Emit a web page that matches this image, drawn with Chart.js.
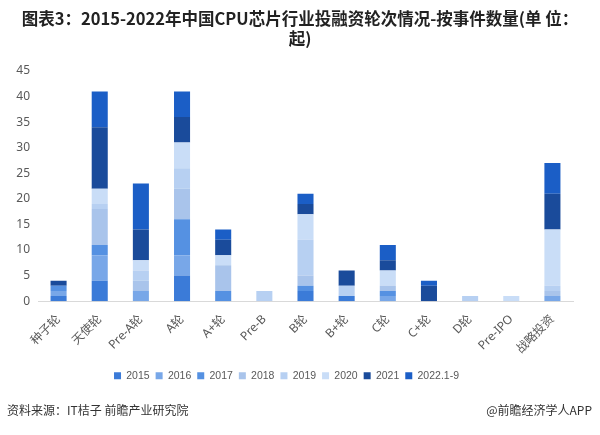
<!DOCTYPE html>
<html>
<head>
<meta charset="utf-8">
<script src="https://cdn.jsdelivr.net/npm/chart.js@4"></script>
<style>
  body { margin: 0; background: #fff; }
  #wrap { position: relative; width: 600px; height: 435px; }
  .title { position: absolute; left: 0; top: 8px; width: 600px; text-align: center; font-family: "Noto Sans CJK SC", sans-serif; font-size: 16.5px; font-weight: bold; line-height: 20px; color: #222; }
  .note { position: absolute; top: 401px; font-family: "Noto Sans CJK SC", sans-serif; font-size: 12px; color: #333; }
</style>
</head>
<body>
<div id="wrap">
  <canvas id="roundsChart" width="600" height="435"></canvas>
  <div class="title">图表3：2015-2022年中国CPU芯片行业投融资轮次情况-按事件数量(单 位：<br>起)</div>
  <div class="note" style="left: 7px;">资料来源：IT桔子 前瞻产业研究院</div>
  <div class="note" style="right: 8px;">@前瞻经济学人APP</div>
</div>
<script>
// funding rounds (categories)
const rounds = ['种子轮', '天使轮', 'Pre-A轮', 'A轮', 'A+轮', 'Pre-B', 'B轮', 'B+轮', 'C轮', 'C+轮', 'D轮', 'Pre-IPO', '战略投资'];
const years = ['2015', '2016', '2017', '2018', '2019', '2020', '2021', '2022.1-9'];

// events per round, one array per year
const y2015 = [1, 4, 0, 5, 0, 0, 2, 1, 0, 0, 0, 0, 0];
const y2016 = [1, 5, 2, 4, 0, 0, 0, 0, 1, 0, 0, 0, 1];
const y2017 = [1, 2, 0, 7, 2, 0, 1, 0, 1, 0, 0, 0, 0];
const y2018 = [0, 7, 2, 6, 5, 0, 2, 0, 1, 0, 0, 0, 1];
const y2019 = [0, 1, 2, 4, 0, 2, 7, 2, 0, 0, 1, 0, 1];
const y2020 = [0, 3, 2, 5, 2, 0, 5, 0, 3, 0, 0, 1, 11];
const y2021 = [1, 12, 6, 5, 3, 0, 2, 3, 2, 3, 0, 0, 7];
const y2022 = [0, 7, 9, 5, 2, 0, 2, 0, 3, 1, 0, 0, 6];

const yearData = [y2015, y2016, y2017, y2018, y2019, y2020, y2021, y2022];
const colors = ['#3b7bd8', '#78a7e8', '#5591e2', '#a9c4eb', '#b7d0f2', '#c9ddf7', '#1a4b9b', '#1b5ec6'];

const ctx = document.getElementById('roundsChart').getContext('2d');
const labelFont = { family: '"Noto Sans", "Noto Sans CJK SC", sans-serif', size: 12 };

new Chart(ctx, {
    type: 'bar',
    data: {
        labels: rounds,
        datasets: years.map((y, i) => ({
            label: y,
            data: yearData[i],
            backgroundColor: colors[i],
            borderWidth: 0,
            barPercentage: 0.39,
            categoryPercentage: 1
        }))
    },
    options: {
        responsive: false,
        animation: false,
        layout: { padding: { left: 0, right: 27, top: 71, bottom: 44 } },
        plugins: {
            title: { display: false },
            legend: {
                position: 'bottom',
                // empty title only adds a gap above the legend row
                title: { display: true, text: ' ', font: { size: 1 }, padding: { top: 2, bottom: 2 } },
                labels: {
                    boxWidth: 7,
                    boxHeight: 7,
                    padding: 6,
                    color: '#595959',
                    font: { family: '"Liberation Sans", sans-serif', size: 10.5 }
                }
            },
            tooltip: { enabled: false }
        },
        scales: {
            x: {
                stacked: true,
                grid: { display: false },
                border: { color: '#d9d9d9' },
                ticks: { color: '#595959', font: labelFont, minRotation: 45, maxRotation: 45, autoSkip: false }
            },
            y: {
                stacked: true,
                min: 0,
                max: 45,
                grid: { display: false },
                border: { display: false },
                ticks: { stepSize: 5, color: '#595959', font: labelFont, padding: 0 },
                afterFit: (scale) => { scale.width = 38; }
            }
        }
    }
});
</script>
</body>
</html>
